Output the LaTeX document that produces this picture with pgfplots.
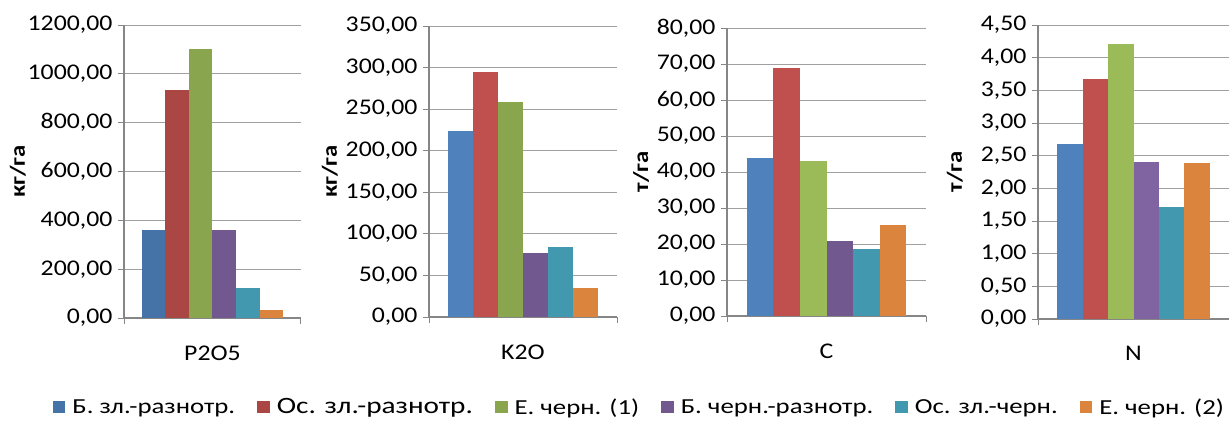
\documentclass[border=0pt]{standalone}
\usepackage{fontspec}
\setmainfont{Carlito}[FakeStretch=1.15]
\newfontfamily\legfam{Carlito}[FakeStretch=1.25]
\usepackage{pgfplots}
\pgfplotsset{compat=1.18}

% series colours (darker and lighter variants of the office palette)
\definecolor{blueA}{HTML}{4572A7}
\definecolor{redA}{HTML}{AA4643}
\definecolor{greenA}{HTML}{89A54E}
\definecolor{purpleA}{HTML}{71588F}
\definecolor{tealA}{HTML}{4198AF}
\definecolor{orangeA}{HTML}{DB843D}
\definecolor{blueB}{HTML}{4F81BD}
\definecolor{redB}{HTML}{C0504D}
\definecolor{greenB}{HTML}{9BBB59}
\definecolor{purpleB}{HTML}{8064A2}
\definecolor{axisgray}{HTML}{868686}
\definecolor{gridgray}{HTML}{A0A0A0}

\newcommand\tickfont{\fontsize{22.5}{26}\selectfont}
\newcommand\legfont{\legfam\fontsize{21.5}{25}\selectfont}

\pgfplotsset{
  panel/.style={
    scale only axis,
    anchor=south west,
    ybar=0pt,
    bar width=0.13333,
    xmin=-0.5, xmax=0.5,
    ymin=0,
    axis lines*=left,
    axis line style={draw=axisgray, line width=1.2bp},
    tick align=outside,
    major tick length=6bp,
    tick style={draw=axisgray, line width=1bp},
    ymajorgrids,
    grid style={draw=gridgray, line width=1bp},
    xtick={-0.5,0.5},
    xticklabels={},
    extra x ticks={0},
    extra x tick style={major tick length=0pt, grid=none},
    extra x tick labels={#1},
    x tick label style={font=\tickfont, yshift=-24bp},
    y tick label style={font=\tickfont, xshift=-2bp,
      /pgf/number format/.cd, fixed, fixed zerofill, precision=2,
      use comma, 1000 sep={}},
    /pgf/number format/assume math mode=true,
    ylabel style={font=\fontsize{21.5}{25}\selectfont\bfseries},
    every axis plot/.append style={draw=none},
    clip=false,
  },
  ylab/.style={ylabel style={at={(axis description cs:#1,0.5)}, anchor=center}},
}

\begin{document}
\begin{tikzpicture}
\useasboundingbox (0bp,0bp) rectangle (1229bp,-421bp);

% P2O5
\begin{axis}[panel={P2O5}, at={(124bp,-318bp)}, width=177bp, height=293bp,
  ymax=1200, ytick distance=200, ylabel={кг/га}, ylab=-0.60,
  legend columns=6,
  legend style={draw=none, fill=none, font=\legfont, inner sep=0pt,
    at={(axis description cs:-0.403,-0.304)}, anchor=west,
    /tikz/every odd column/.append style={column sep=5bp},
    /tikz/every even column/.append style={column sep=20bp}},
  legend image code/.code={\fill[#1] (0bp,-6.3bp) rectangle (12.5bp,6.3bp);},
]
\addplot[fill=blueA]   coordinates {(0,360)};
\addplot[fill=redA]    coordinates {(0,932)};
\addplot[fill=greenA]  coordinates {(0,1102)};
\addplot[fill=purpleA] coordinates {(0,360)};
\addplot[fill=tealA]   coordinates {(0,122)};
\addplot[fill=orangeA] coordinates {(0,33)};
\legend{Б. зл.-разнотр., {\fontsize{23.5}{26}\selectfont Ос. зл.-разнотр.}, Е. черн. (1), Б. черн.-разнотр., Ос. зл.-черн., Е. черн. (2)}
\end{axis}

% K2O
\begin{axis}[panel={K2O}, at={(429bp,-317bp)}, width=188bp, height=291bp,
  ymax=350, ytick distance=50, ylabel={кг/га}, ylab=-0.527]
\addplot[fill=blueB]   coordinates {(0,224)};
\addplot[fill=redB]    coordinates {(0,295)};
\addplot[fill=greenA]  coordinates {(0,259)};
\addplot[fill=purpleA] coordinates {(0,77)};
\addplot[fill=tealA]   coordinates {(0,84)};
\addplot[fill=orangeA] coordinates {(0,35)};
\end{axis}

% C
\begin{axis}[panel={C}, at={(727bp,-316bp)}, width=199bp, height=288bp,
  ymax=80, ytick distance=10, ylabel={т/га}, ylab=-0.432]
\addplot[fill=blueB]   coordinates {(0,43.9)};
\addplot[fill=redB]    coordinates {(0,68.9)};
\addplot[fill=greenB]  coordinates {(0,43.0)};
\addplot[fill=purpleA] coordinates {(0,20.8)};
\addplot[fill=tealA]   coordinates {(0,18.6)};
\addplot[fill=orangeA] coordinates {(0,25.3)};
\end{axis}

% N
\begin{axis}[panel={N}, at={(1038bp,-319bp)}, width=191bp, height=294bp,
  ymax=4.5, ytick distance=0.5, ylabel={т/га}, ylab=-0.435]
\addplot[fill=blueB]   coordinates {(0,2.68)};
\addplot[fill=redB]    coordinates {(0,3.67)};
\addplot[fill=greenB]  coordinates {(0,4.21)};
\addplot[fill=purpleB] coordinates {(0,2.40)};
\addplot[fill=tealA]   coordinates {(0,1.71)};
\addplot[fill=orangeA] coordinates {(0,2.39)};
\end{axis}
\end{tikzpicture}
\end{document}
